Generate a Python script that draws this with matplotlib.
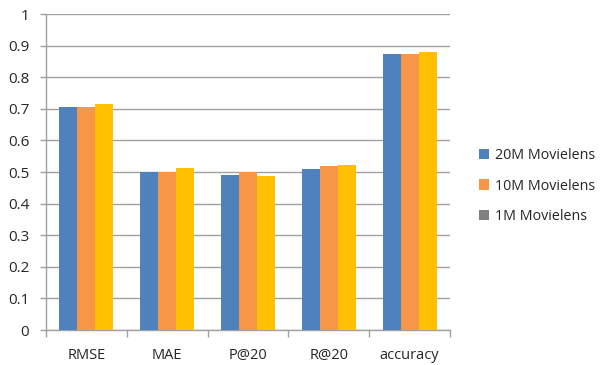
import matplotlib
matplotlib.use("Agg")
import matplotlib.pyplot as plt
from matplotlib.patches import Patch
import numpy as np

categories = ["RMSE", "MAE", "P@20", "R@20", "accuracy"]
series_names = ["20M Movielens", "10M Movielens", "1M Movielens"]
vals_20m = [0.705, 0.499, 0.491, 0.508, 0.872]
vals_10m = [0.705, 0.499, 0.500, 0.518, 0.875]
vals_1m = [0.714, 0.514, 0.487, 0.521, 0.880]
y_ticks = [0, 0.1, 0.2, 0.3, 0.4, 0.5, 0.6, 0.7, 0.8, 0.9, 1]
y_tick_labels = ["0", "0.1", "0.2", "0.3", "0.4", "0.5", "0.6", "0.7", "0.8", "0.9", "1"]

bar_colors = ["#4F81BD", "#F79646", "#FFC000"]
legend_colors = ["#4F81BD", "#F79646", "#7F7F7F"]
grid_color = "#A0A0A0"
text_color = "#262626"

plt.rcParams["font.family"] = ["Open Sans", "DejaVu Sans"]

fig = plt.figure(figsize=(6.0, 3.65), dpi=100)
ax = fig.add_axes([46 / 600, 35 / 365, 404 / 600, 316 / 365])

x = np.arange(len(categories))
width = 0.223
for i, vals in enumerate([vals_20m, vals_10m, vals_1m]):
    ax.bar(x + (i - 1) * width, vals, width, color=bar_colors[i], zorder=3)

ax.set_xlim(-0.5, len(categories) - 0.5)
ax.set_ylim(0, 1)
ax.set_yticks(y_ticks)
ax.set_yticklabels(y_tick_labels)
ax.yaxis.grid(True, color=grid_color, linewidth=1.0, zorder=0)
ax.set_axisbelow(True)

ax.set_xticks(x)
ax.set_xticklabels(categories)
ax.set_xticks(np.arange(-0.5, len(categories)), minor=True)
ax.tick_params(axis="x", which="major", length=0, pad=13, labelsize=10.5, colors=text_color)
ax.tick_params(axis="x", which="minor", length=5, width=1, color=grid_color)
ax.tick_params(axis="y", length=4, width=1, color=grid_color, pad=8, labelsize=11,
               labelcolor=text_color)

for side in ["top", "right"]:
    ax.spines[side].set_visible(False)
for side in ["left", "bottom"]:
    ax.spines[side].set_color(grid_color)
    ax.spines[side].set_linewidth(1.0)

handles = [Patch(facecolor=c, edgecolor="none") for c in legend_colors]
fig.legend(handles, series_names, loc="center left",
           bbox_to_anchor=(466 / 600, (365 - 186) / 365),
           frameon=False, fontsize=10.3, handlelength=0.7, handleheight=0.7,
           handletextpad=0.4, labelspacing=1.1, labelcolor=text_color)

fig.savefig("out.png", dpi=100, facecolor="white")
